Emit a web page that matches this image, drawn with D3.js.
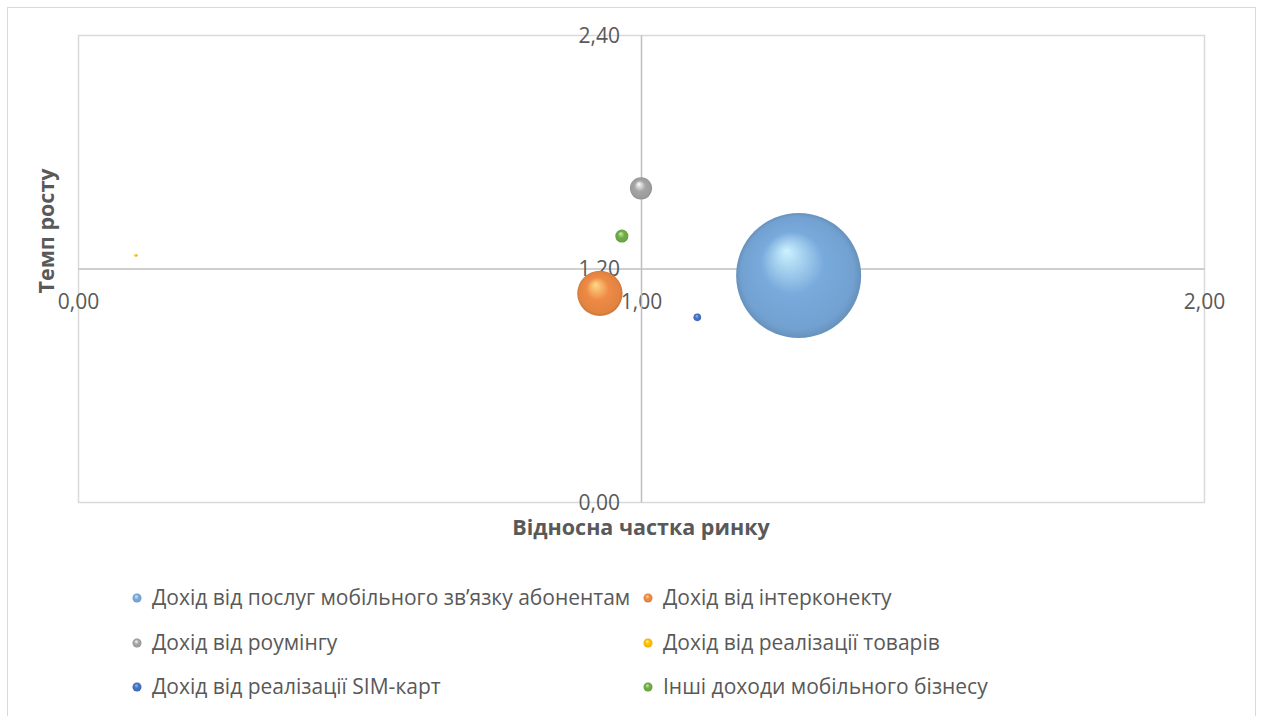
<!DOCTYPE html>
<html>
<head>
<meta charset="utf-8">
<script src="https://cdn.jsdelivr.net/npm/d3@7"></script>
<style>
  html, body { margin: 0; padding: 0; background: #fff; }
  svg { display: block; font-family: "Open Sans", Lato, sans-serif; }
</style>
</head>
<body>
<script>
// Series of the BCG-style bubble chart: relative market share (x), growth rate (y), revenue volume (size)
const seriesNames = [
  "Дохід від послуг мобільного зв’язку абонентам",
  "Дохід від інтерконекту",
  "Дохід від роумінгу",
  "Дохід від реалізації товарів",
  "Дохід від реалізації SIM-карт",
  "Інші доходи мобільного бізнесу"
];
const marketShare = [1.28, 0.927, 1.0, 0.103, 1.10, 0.966];
const growthRate  = [1.164, 1.072, 1.612, 1.268, 0.949, 1.367];
const revenue     = [3200, 420, 100, 2, 12, 35];
const seriesColors = ["#78aadc", "#ee8a45", "#a5a5a5", "#ffc000", "#4472c4", "#70ad47"];
const highlightColors = ["#ccf2ff", "#ffd98a", "#ffffff", "#fff1a0", "#9fc0ff", "#c9f0a8"];

const xTicks = [0, 1, 2];
const yTicks = [0, 1.2, 2.4];
const xTitle = "Відносна частка ринку";
const yTitle = "Темп росту";

const W = 1261, H = 716;
const plot = { left: 78, right: 1204, top: 35, bottom: 502 };

const svg = d3.select("body").append("svg").attr("width", W).attr("height", H);

// chart frame
svg.append("rect").attr("x", 7.5).attr("y", 7.5).attr("width", 1248).attr("height", 720)
  .attr("fill", "#fff").attr("stroke", "#d9d9d9").attr("stroke-width", 1);

const x = d3.scaleLinear().domain([0, 2]).range([plot.left, plot.right]);
const y = d3.scaleLinear().domain([0, 2.4]).range([plot.bottom, plot.top]);
const r = d3.scaleSqrt().domain([0, d3.max(revenue)]).range([0, 62.5]);

// plot area border
svg.append("rect")
  .attr("x", plot.left + 0.5).attr("y", plot.top + 0.5)
  .attr("width", plot.right - plot.left).attr("height", plot.bottom - plot.top)
  .attr("fill", "none").attr("stroke", "#d9d9d9").attr("stroke-width", 1.5);

// axes crossing at (1.00, 1.20)
const fmt = d => d3.format(".2f")(d).replace(".", ",");
const xAxis = d3.axisBottom(x).tickValues(xTicks).tickSize(0).tickFormat(fmt);
const yAxis = d3.axisLeft(y).tickValues(yTicks).tickSize(0).tickFormat(fmt);

const gx = svg.append("g").attr("transform", `translate(0,${y(1.2)})`).call(xAxis);
gx.select(".domain").attr("stroke", "#bfbfbf").attr("stroke-width", 1.5);
gx.selectAll("text").attr("fill", "#595959").attr("font-size", 21)
  .attr("font-family", "'Open Sans', sans-serif").attr("y", 26).attr("dy", "0.71em");

const gy = svg.append("g").attr("transform", `translate(${x(1)},0)`).call(yAxis);
gy.select(".domain").attr("stroke", "#bfbfbf").attr("stroke-width", 1.5);
gy.selectAll("text").attr("fill", "#595959").attr("font-size", 21)
  .attr("font-family", "'Open Sans', sans-serif").attr("x", -21).attr("dy", "0.35em");

// axis titles
svg.append("text").attr("x", x(1)).attr("y", 535).attr("text-anchor", "middle")
  .attr("font-size", 21.5).attr("font-weight", "bold").attr("fill", "#595959").text(xTitle);
svg.append("text").attr("transform", `translate(54,${231}) rotate(-90)`).attr("text-anchor", "middle")
  .attr("font-size", 21.5).attr("font-weight", "bold").attr("fill", "#595959").text(yTitle);

// sphere shading
const defs = svg.append("defs");
seriesColors.forEach((c, i) => {
  const base = d3.color(c);
  const g = defs.append("radialGradient").attr("id", "sph" + i)
    .attr("cx", "50%").attr("cy", "50%").attr("r", "50%")
    .attr("fx", "40%").attr("fy", "30%");
  g.append("stop").attr("offset", "0%").attr("stop-color", highlightColors[i]);
  g.append("stop").attr("offset", "50%").attr("stop-color", base.formatHex());
  g.append("stop").attr("offset", "90%").attr("stop-color", base.darker(0.15).formatHex());
  g.append("stop").attr("offset", "100%").attr("stop-color", base.darker(0.45).formatHex());
});

const data = seriesNames.map((n, i) => ({ name: n, x: marketShare[i], y: growthRate[i], v: revenue[i], i }));

svg.append("g").selectAll("circle")
  .data(data.slice().sort((a, b) => b.v - a.v))
  .join("circle")
  .attr("cx", d => x(d.x)).attr("cy", d => y(d.y))
  .attr("r", d => Math.max(r(d.v), 1.5))
  .attr("fill", d => `url(#sph${d.i})`);

// legend, two columns
const colX = [137, 648];
const rowY = [598, 643, 687];
const lg = svg.append("g");
seriesNames.forEach((name, k) => {
  const cx = colX[k % 2], cy = rowY[Math.floor(k / 2)];
  lg.append("circle").attr("cx", cx).attr("cy", cy).attr("r", 4.5).attr("fill", `url(#sph${k})`);
  lg.append("text").attr("x", cx + 15).attr("y", cy).attr("dy", "0.35em")
    .attr("font-size", 21).attr("fill", "#595959").text(name);
});
</script>
</body>
</html>
